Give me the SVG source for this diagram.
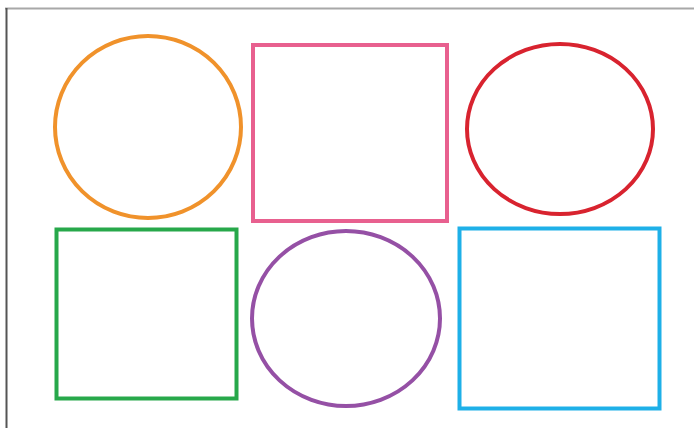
<svg xmlns="http://www.w3.org/2000/svg" width="694" height="428" viewBox="0 0 694 428">
<style>
.s{fill:none;stroke-width:4}
</style>
<rect width="694" height="428" fill="#ffffff"/>
<g id="frame">
<line x1="5" y1="8.5" x2="694" y2="8.5" stroke="#a8a8a8" stroke-width="2"/>
<line x1="6.5" y1="8" x2="6.5" y2="428" stroke="#555555" stroke-width="2"/>
</g>
<g id="orange-circle"><ellipse class="s" cx="148" cy="127" rx="93" ry="91" stroke="#F0922B"/></g>
<g id="pink-square"><rect class="s" x="253" y="45" width="194" height="176" stroke="#E8608F"/></g>
<g id="red-circle"><ellipse class="s" cx="560" cy="129" rx="93" ry="85" stroke="#D8232F"/></g>
<g id="green-square"><rect class="s" x="56.5" y="229.5" width="180" height="169" stroke="#27A84A" stroke-width="5"/></g>
<g id="purple-circle"><ellipse class="s" cx="346" cy="318.5" rx="94" ry="87.5" stroke="#9550A5"/></g>
<g id="blue-square"><rect class="s" x="459.5" y="228.5" width="200" height="180" stroke="#1EB0E8" stroke-width="5"/></g>
<g id="connectors"/>
</svg>
